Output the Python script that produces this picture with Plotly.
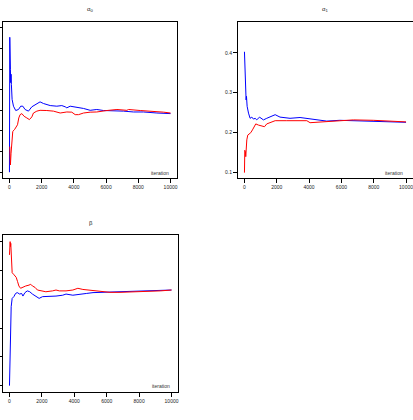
import plotly.graph_objects as go

# ---------------- data (running means of two chains) ----------------
a0_blue_iter = [0, 20, 40, 60, 80, 100, 120, 165, 250, 390, 560, 700, 830, 970, 1180, 1390, 1700, 1900,
                2110, 2530, 2940, 3250, 3460, 3560, 3770, 4180, 4600, 5010, 5420, 5840, 6250, 7080, 7700,
                8320, 9150, 10000]
a0_blue_val = [0.300, 0.954, 0.767, 0.799, 0.734, 0.775, 0.726, 0.653, 0.620, 0.599, 0.604, 0.620, 0.620,
               0.604, 0.596, 0.617, 0.633, 0.641, 0.633, 0.623, 0.620, 0.623, 0.617, 0.612, 0.620, 0.615,
               0.609, 0.600, 0.604, 0.599, 0.599, 0.596, 0.592, 0.592, 0.587, 0.584]
a0_red_iter = [20, 40, 60, 100, 145, 207, 310, 414, 500, 580, 660, 770, 910, 1080, 1240, 1390, 1490, 1700,
               1900, 2320, 2730, 3150, 3560, 3870, 4080, 4290, 4600, 5010, 5420, 6050, 6670, 7290, 7390,
               8120, 8940, 9570, 10000]
a0_red_val = [0.424, 0.375, 0.335, 0.392, 0.457, 0.498, 0.506, 0.522, 0.530, 0.563, 0.579, 0.584, 0.571,
              0.563, 0.555, 0.568, 0.587, 0.596, 0.600, 0.599, 0.596, 0.587, 0.592, 0.591, 0.579, 0.579,
              0.587, 0.591, 0.592, 0.599, 0.604, 0.600, 0.604, 0.599, 0.596, 0.591, 0.587]

a1_blue_iter = [0, 20, 40, 60, 80, 100, 125, 165, 250, 350, 455, 560, 660, 760, 930, 1070, 1175, 1380,
                1790, 1900, 2200, 2820, 3440, 3860, 4270, 5090, 5900, 7150, 8390, 9220, 10000]
a1_blue_val = [0.4025, 0.366, 0.333, 0.291, 0.295, 0.282, 0.291, 0.266, 0.249, 0.236, 0.239, 0.234, 0.236,
               0.232, 0.239, 0.234, 0.232, 0.236, 0.243, 0.245, 0.239, 0.236, 0.238, 0.236, 0.234, 0.229,
               0.231, 0.230, 0.229, 0.227, 0.226]
a1_red_iter = [0, 20, 40, 60, 80, 100, 145, 205, 290, 390, 495, 600, 700, 865, 1070, 1240, 1380, 1590,
               1900, 2620, 3440, 3860, 4060, 4680, 5090, 5900, 6740, 7970, 8800, 9420, 10000]
a1_red_val = [0.100, 0.156, 0.140, 0.152, 0.140, 0.161, 0.182, 0.194, 0.197, 0.200, 0.207, 0.217, 0.222,
              0.219, 0.217, 0.215, 0.222, 0.225, 0.230, 0.230, 0.229, 0.230, 0.225, 0.227, 0.228, 0.230,
              0.232, 0.231, 0.230, 0.229, 0.227]

b_blue_iter = [0, 40, 60, 80, 90, 100, 105, 165, 270, 375, 480, 625, 750, 830, 955, 1100, 1250, 1415,
               1620, 1830, 2040, 2455, 2870, 3285, 3490, 3910, 4325, 4740, 5155, 5570, 6400, 7235, 8065,
               8900, 10000]
b_blue_val = [0.500, 0.623, 0.716, 0.745, 0.716, 0.745, 0.774, 0.803, 0.809, 0.820, 0.823, 0.818, 0.820,
              0.811, 0.823, 0.829, 0.826, 0.818, 0.811, 0.803, 0.809, 0.809, 0.811, 0.814, 0.818, 0.814,
              0.818, 0.820, 0.823, 0.824, 0.824, 0.827, 0.829, 0.831, 0.832]
b_red_iter = [0, 20, 40, 60, 80, 100, 125, 165, 250, 330, 415, 500, 580, 685, 790, 1000, 1205, 1310, 1415,
              1580, 1725, 1935, 2245, 2660, 2870, 3080, 3490, 3910, 4220, 4530, 4950, 5570, 6200, 6820,
              7650, 8480, 9310, 10000]
b_red_val = [0.954, 0.994, 1.000, 0.983, 0.994, 0.971, 0.913, 0.892, 0.887, 0.881, 0.876, 0.861, 0.846,
             0.838, 0.841, 0.846, 0.849, 0.852, 0.846, 0.841, 0.832, 0.829, 0.826, 0.829, 0.832, 0.829,
             0.829, 0.832, 0.838, 0.834, 0.832, 0.827, 0.824, 0.824, 0.825, 0.826, 0.829, 0.832]

x_ticks = [0, 2000, 4000, 6000, 8000, 10000]
a0_ticks = [0.3, 0.4, 0.5, 0.6, 0.7, 0.8, 0.9, 1.0]
a1_ticks = [0.1, 0.2, 0.3, 0.4]
b_ticks = [0.5, 0.6, 0.7, 0.8, 0.9, 1.0]
titles = ["α<sub>0</sub>", "α<sub>1</sub>", "β"]
xlabel = "iteration"

W, H = 413, 420
BLUE, RED = "#0000FF", "#FF0000"
FONT = "Liberation Sans, Arial, sans-serif"

fig = go.Figure()
panels = [
    (a0_blue_iter, a0_blue_val, a0_red_iter, a0_red_val, "x", "y"),
    (a1_blue_iter, a1_blue_val, a1_red_iter, a1_red_val, "x2", "y2"),
    (b_blue_iter, b_blue_val, b_red_iter, b_red_val, "x3", "y3"),
]
for bi, bv, ri, rv, xa, ya in panels:
    fig.add_trace(go.Scatter(x=bi, y=bv, mode="lines", line=dict(color=BLUE, width=1),
                             xaxis=xa, yaxis=ya, showlegend=False, hoverinfo="skip"))
    fig.add_trace(go.Scatter(x=ri, y=rv, mode="lines", line=dict(color=RED, width=1),
                             xaxis=xa, yaxis=ya, showlegend=False, hoverinfo="skip"))

def px_x(a, b):
    return [a / W, b / W]

def px_y(top, bottom):
    return [1 - bottom / H, 1 - top / H]

common_ax = dict(showline=True, mirror=True, linecolor="black", linewidth=1, ticks="outside",
                 ticklen=4, tickwidth=1, tickcolor="black", showgrid=False, zeroline=False,
                 automargin=False, ticklabeloverflow="allow",
                 tickfont=dict(size=5, color="#222", family=FONT))

xr = [-400, 10400]
# panel geometry (pixels); left panels' y labels fall outside the page in the reference
geo = {
    1: dict(x=px_x(3, 177), y=px_y(22, 178), yr=[0.272, 1.028], yt=a0_ticks, ylab=False),
    2: dict(x=px_x(238, 412.5), y=px_y(22, 178), yr=[0.0866, 0.477], yt=a1_ticks, ylab=True),
    3: dict(x=px_x(3, 178), y=px_y(235, 392), yr=[0.478, 1.023], yt=b_ticks, ylab=False),
}
for k, g in geo.items():
    sfx = "" if k == 1 else str(k)
    fig.update_layout(**{
        "xaxis" + sfx: dict(domain=g["x"], range=xr, tickvals=x_ticks,
                            ticktext=[str(t) for t in x_ticks], anchor="y" + sfx, **common_ax),
        "yaxis" + sfx: dict(domain=g["y"], range=g["yr"], tickvals=g["yt"],
                            ticktext=[f"{t:.1f}" for t in g["yt"]], anchor="x" + sfx,
                            showticklabels=g["ylab"], **common_ax),
    })

annos = []
title_pos = [((3 + 177) / 2, 9), ((238 + 412.5) / 2, 9), ((3 + 178) / 2, 223)]
for t, (px, py) in zip(titles, title_pos):
    annos.append(dict(text=t, x=px / W, y=1 - py / H, xref="paper", yref="paper", showarrow=False,
                      xanchor="center", yanchor="middle", font=dict(size=6, color="#222", family=FONT)))
iter_pos = [(171, 172.5), (405, 172.5), (172, 386)]
for px, py in iter_pos:
    annos.append(dict(text=xlabel, x=px / W, y=1 - py / H, xref="paper", yref="paper", showarrow=False,
                      xanchor="right", yanchor="middle", font=dict(size=5, color="#333", family=FONT)))

fig.update_layout(width=W, height=H, margin=dict(l=0, r=0, t=0, b=0), template="none",
                  paper_bgcolor="white", plot_bgcolor="white", annotations=annos,
                  font=dict(family=FONT))

fig.write_html("out.html")
